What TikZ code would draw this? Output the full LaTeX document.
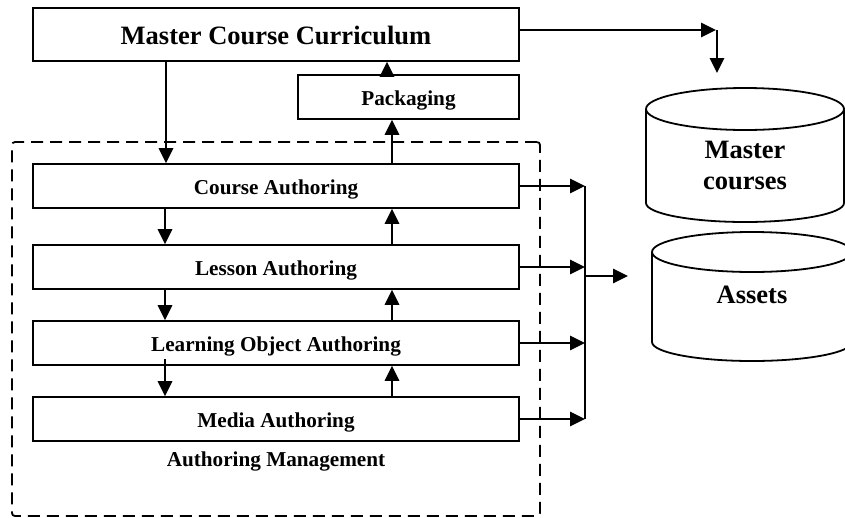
\documentclass[tikz,border=0pt]{standalone}
\usepackage{fontspec}
\setmainfont{Liberation Serif}
\usetikzlibrary{arrows.meta,calc}

\begin{document}
\begin{tikzpicture}[x=1pt,y=-1pt,
  box/.style={draw, line width=1.8pt, minimum width=486pt, minimum height=44pt,
    inner sep=0pt, text height=17pt, text depth=0pt,
    font=\fontsize{21.2}{25}\selectfont\bfseries},
  bigbox/.style={box, minimum height=53pt, text height=20pt,
    font=\fontsize{26.5}{31}\selectfont\bfseries},
  label/.style={inner sep=0pt, font=\fontsize{21.2}{25}\selectfont\bfseries},
  storetext/.style={inner sep=0pt, align=center,
    font=\fontsize{26.5}{31}\selectfont\bfseries},
  frame/.style={draw, line width=1.8pt, dash pattern=on 12pt off 7pt,
    rounded corners=3pt, inner sep=0pt},
  conn/.style={line width=1.6pt},
  flow/.style={conn, -{Triangle[length=15pt,width=14.5pt]}},
  store/.style={line width=1.8pt},
]
\useasboundingbox (0,0) rectangle (845,517);

% authoring management frame
\node[frame, minimum width=528pt, minimum height=374pt] (mgmt) at (276,329) {};
\node[label, anchor=base] (mgmtlabel) at (276,466) {Authoring Management};

% process boxes
\node[bigbox] (mcc) at (276,34.5) {Master Course Curriculum};
\node[box, minimum width=221pt] (pkg) at (408.5,97) {Packaging};
\node[box] (ca) at (276,186) {Course Authoring};
\node[box] (la) at (276,267) {Lesson Authoring};
\node[box] (lo) at (276,343) {Learning Object Authoring};
\node[box] (ma) at (276,419) {Media Authoring};

% columns of the vertical connectors
\coordinate (xl) at (165,0);
\coordinate (xm) at (166,0);
\coordinate (xp) at (387,0);
\coordinate (xr) at (392,0);

% downward flow
\draw[flow] (mcc.south -| xm) -- (ca.north -| xm);
\draw[flow] (ca.south -| xl) -- (la.north -| xl);
\draw[flow] (la.south -| xl) -- (lo.north -| xl);
\draw[flow] ($(lo.south -| xl)+(0,-7)$) -- (ma.north -| xl);

% upward flow
\draw[flow] (ma.north -| xr) -- (lo.south -| xr);
\draw[flow] (lo.north -| xr) -- (la.south -| xr);
\draw[flow] (la.north -| xr) -- (ca.south -| xr);
\draw[flow] (ca.north -| xr) -- (pkg.south -| xr);
\draw[flow] (pkg.north -| xp) -- (mcc.south -| xp);

% collecting bus towards the stores
\coordinate (bus) at (585,0);
\draw[flow] (ca.east) -- (ca.east -| bus);
\draw[flow] (la.east) -- (la.east -| bus);
\draw[flow] (lo.east) -- (lo.east -| bus);
\draw[flow] (ma.east) -- (ma.east -| bus);
\draw[conn, line width=1.8pt] (ca.east -| bus) -- (ma.east -| bus);
\coordinate (busout) at (585,276);
\coordinate (assetsin) at (628,276);
\draw[flow] (busout) -- (assetsin);

% curriculum to master courses store
\coordinate (turn) at (716,30);
\coordinate (turndown) at (717,30);
\coordinate (mcin) at (717,73);
\draw[flow] (mcc.east |- turn) -- (turn);
\draw[flow] (turndown) -- (mcin);

% master courses store
\draw[store] (745,109) ellipse [x radius=99pt, y radius=21pt];
\draw[store] (646,109) -- (646,203)
  arc[start angle=180, end angle=360, x radius=99pt, y radius=19pt]
  -- (844,109);
\node[storetext] (mcstore) at (745,165.5) {Master\\courses};

% assets store
\draw[store] (752,252) ellipse [x radius=100pt, y radius=20pt];
\draw[store] (652,252) -- (652,342)
  arc[start angle=180, end angle=360, x radius=100pt, y radius=19pt]
  -- (852,252);
\node[storetext, anchor=base] (assets) at (752,303) {Assets};
\end{tikzpicture}
\end{document}
